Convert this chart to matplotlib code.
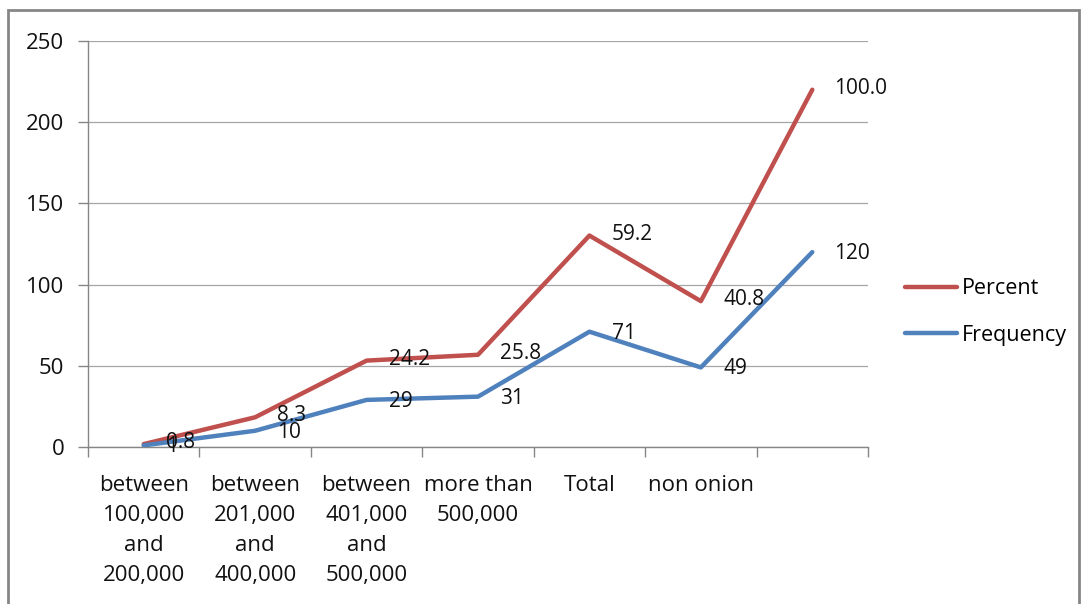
import matplotlib
matplotlib.use('Agg')
import matplotlib.pyplot as plt
from matplotlib.patches import Rectangle

plt.rcParams['font.family'] = ['Open Sans', 'DejaVu Sans']

# Category labels along the x axis (last one is blank in the source chart)
categories = ['between\n100,000\nand\n200,000',
              'between\n201,000\nand\n400,000',
              'between\n401,000\nand\n500,000',
              'more than\n500,000',
              'Total',
              'non onion',
              '']

# Series values (Excel stacked line: Percent drawn on top of Frequency)
frequency = [1, 10, 29, 31, 71, 49, 120]
percent = [0.8, 8.3, 24.2, 25.8, 59.2, 40.8, 100.0]
percent_labels = ['0.8', '8.3', '24.2', '25.8', '59.2', '40.8', '100.0']
freq_labels = ['1', '10', '29', '31', '71', '49', '120']

y_ticks = [0, 50, 100, 150, 200, 250]

RED = '#C0504D'
BLUE = '#4F81BD'
GRAY = '#868686'

fig = plt.figure(figsize=(10.84, 6.04), dpi=100)
ax = fig.add_axes([88/1084, 1 - 447/604, (868-88)/1084, (447-41)/604])

x = list(range(len(categories)))
stacked = [f + p for f, p in zip(frequency, percent)]

ax.plot(x, stacked, color=RED, lw=3.2, solid_joinstyle='round',
        solid_capstyle='round', label='Percent', zorder=3)
ax.plot(x, frequency, color=BLUE, lw=3.2, solid_joinstyle='round',
        solid_capstyle='round', label='Frequency', zorder=3)

# data labels sit to the right of each point
for xi, yi, t in zip(x, stacked, percent_labels):
    ax.annotate(t, (xi, yi), xytext=(16, 1), textcoords='offset points',
                ha='left', va='center', fontsize=15, color='#111111', zorder=4)
for xi, yi, t in zip(x, frequency, freq_labels):
    ax.annotate(t, (xi, yi), xytext=(16, -1), textcoords='offset points',
                ha='left', va='center', fontsize=15, color='#111111', zorder=4)

ax.set_xlim(-0.5, len(categories) - 0.5)
ax.set_ylim(0, 250)
ax.set_yticks(y_ticks)
ax.set_yticklabels([str(v) for v in y_ticks])
ax.grid(axis='y', color='#A6A6A6', lw=0.9)
ax.set_axisbelow(True)

# category ticks sit between categories, labels centered in each slot
ax.set_xticks([i - 0.5 for i in range(len(categories) + 1)], minor=False)
ax.set_xticklabels([])
ax.set_xticks(x, minor=True)
ax.set_xticklabels(categories, minor=True, linespacing=1.56)
ax.tick_params(axis='x', which='major', length=7, color=GRAY, width=1)
ax.tick_params(axis='x', which='minor', length=0, pad=20, labelsize=16,
               labelcolor='#111111')
ax.tick_params(axis='y', length=7, color=GRAY, width=1, pad=10,
               labelsize=16, labelcolor='#111111')

for s in ['top', 'right']:
    ax.spines[s].set_visible(False)
for s in ['left', 'bottom']:
    ax.spines[s].set_color(GRAY)
    ax.spines[s].set_linewidth(1)

ax.legend(loc='center left', bbox_to_anchor=(905/1084, 1 - 312/604),
          bbox_transform=fig.transFigure, frameon=False, fontsize=15.5,
          handlelength=2.4, handletextpad=0.25, labelspacing=1.2,
          borderpad=0, borderaxespad=0)

# outer chart border
fig.patches.append(Rectangle((8/1084, -0.05), (1079-8)/1084, 1.05 - 10/604,
                             transform=fig.transFigure, fill=False,
                             edgecolor=GRAY, lw=2))

fig.savefig('out.png', dpi=100)
